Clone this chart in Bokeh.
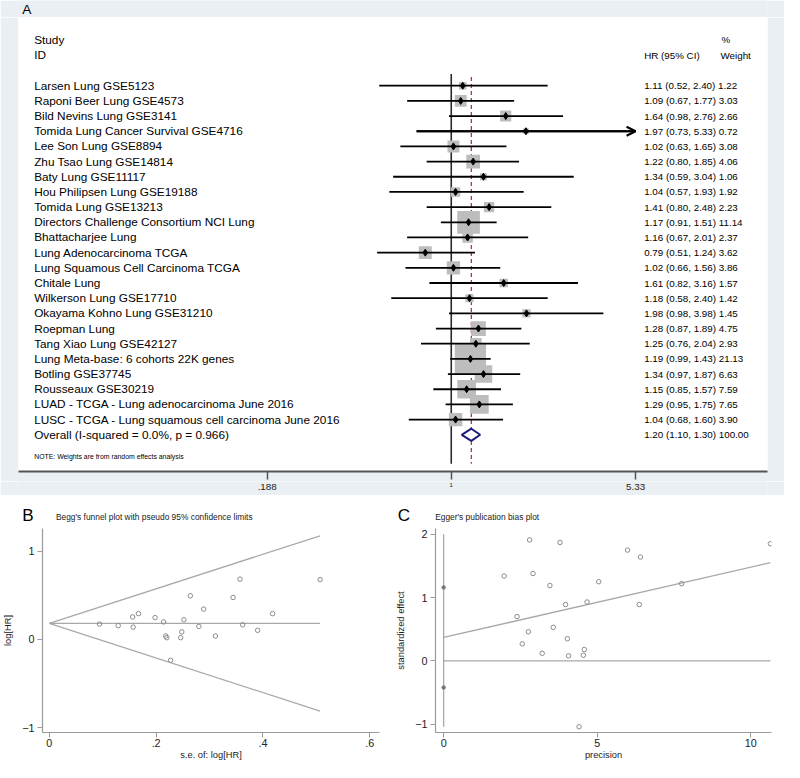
import numpy as np
from bokeh.plotting import figure
from bokeh.models import (Range1d, FixedTicker, CustomJSTickFormatter, Label,
                          Arrow, OpenHead)
from bokeh.layouts import column, row
from bokeh.embed import file_html
from bokeh.resources import INLINE
from bokeh.core.properties import value

# ---------------- data ----------------
studies = [
    "Larsen Lung GSE5123",
    "Raponi Beer Lung GSE4573",
    "Bild Nevins Lung GSE3141",
    "Tomida Lung Cancer Survival GSE4716",
    "Lee Son Lung GSE8894",
    "Zhu Tsao Lung GSE14814",
    "Baty Lung GSE11117",
    "Hou Philipsen Lung GSE19188",
    "Tomida Lung GSE13213",
    "Directors Challenge Consortium NCI Lung",
    "Bhattacharjee Lung",
    "Lung Adenocarcinoma TCGA",
    "Lung Squamous Cell Carcinoma TCGA",
    "Chitale Lung",
    "Wilkerson Lung GSE17710",
    "Okayama Kohno Lung GSE31210",
    "Roepman Lung",
    "Tang Xiao Lung GSE42127",
    "Lung Meta-base: 6 cohorts 22K genes",
    "Botling GSE37745",
    "Rousseaux GSE30219",
    "LUAD - TCGA - Lung adenocarcinoma June 2016",
    "LUSC - TCGA - Lung squamous cell carcinoma June 2016",
]
hr = [1.11, 1.09, 1.64, 1.97, 1.02, 1.22, 1.34, 1.04, 1.41, 1.17, 1.16, 0.79,
      1.02, 1.61, 1.18, 1.98, 1.28, 1.25, 1.19, 1.34, 1.15, 1.29, 1.04]
ci_low = [0.52, 0.67, 0.98, 0.73, 0.63, 0.80, 0.59, 0.57, 0.80, 0.91, 0.67, 0.51,
          0.66, 0.82, 0.58, 0.98, 0.87, 0.76, 0.99, 0.97, 0.85, 0.95, 0.68]
ci_high = [2.40, 1.77, 2.76, 5.33, 1.65, 1.85, 3.04, 1.93, 2.48, 1.51, 2.01, 1.24,
           1.56, 3.16, 2.40, 3.98, 1.89, 2.04, 1.43, 1.87, 1.57, 1.75, 1.60]
weight = [1.22, 3.03, 2.66, 0.72, 3.08, 4.06, 1.06, 1.92, 2.23, 11.14, 2.37, 3.62,
          3.86, 1.57, 1.42, 1.45, 4.75, 2.93, 21.13, 6.63, 7.59, 7.65, 3.90]
overall_label = "Overall  (I-squared = 0.0%, p = 0.966)"
overall_hr, overall_low, overall_high, overall_weight = 1.20, 1.10, 1.30, 100.00
note_text = "NOTE: Weights are from random effects analysis"
a_ticks = [0.188, 1, 5.33]
a_tick_labels = [".188", "1", "5.33"]
a_tick_label_sizes = [10, 6, 10]

# Begg's funnel plot
begg_se = [0.390, 0.248, 0.264, 0.507, 0.246, 0.214, 0.418, 0.311, 0.289, 0.129,
           0.280, 0.227, 0.220, 0.344, 0.362, 0.357, 0.198, 0.252, 0.094, 0.167,
           0.157, 0.156, 0.218]
begg_loghr = [0.104, 0.086, 0.495, 0.678, 0.020, 0.199, 0.293, 0.039, 0.344, 0.157,
              0.148, -0.236, 0.020, 0.476, 0.166, 0.683, 0.247, 0.223, 0.174, 0.293,
              0.140, 0.255, 0.039]
funnel_se = [0.0, 0.507]
funnel_mid = [0.182, 0.182]
funnel_up = [0.182, 1.175]
funnel_lo = [0.182, -0.812]
b_xticks = [0, 0.2, 0.4, 0.6]
b_xlabels = ["0", ".2", ".4", ".6"]
b_yticks = [-1, 0, 1]

# Egger's plot
egger_prec = [2.56, 4.03, 3.79, 1.97, 4.07, 4.67, 2.39, 3.21, 3.46, 7.75, 3.57, 4.41,
              4.55, 2.91, 2.76, 2.80, 5.05, 3.97, 10.64, 5.99, 6.37, 6.41, 4.58]
egger_z = [0.27, 0.35, 1.87, 1.34, 0.08, 0.93, 0.70, 0.12, 1.19, 1.22, 0.53, -1.04,
           0.09, 1.38, 0.46, 1.91, 1.25, 0.89, 1.85, 1.75, 0.89, 1.64, 0.18]
egger_fit_x = [0.0, 10.64]
egger_fit_y = [0.37, 1.55]
egger_zero_x = [0.0, 10.64]
egger_zero_y = [0.0, 0.0]
egger_vline_y = [-1.04, 2.0]
egger_ci = [-0.42, 1.16]
c_xticks = [0, 5, 10]
c_yticks = [-1, 0, 1, 2]

panel_letters = ["A", "B", "C"]
panel_titles = ["Begg's funnel plot with pseudo 95% confidence limits",
                "Egger's publication bias plot"]

# ---------------- style ----------------
FONT = "Liberation Sans"
BG = "#e9eff2"
S = 0.98          # reference pixel -> page pixel
W = 784


def fs(v):
    return f"{v * S:.1f}px"


def strip(height, x_range, y_range, bg, left=0, right=0):
    p = figure(width=W, height=height,
               x_range=x_range, y_range=y_range,
               output_backend="svg", toolbar_location=None,
               x_axis_location=None, y_axis_location=None,
               min_border_left=left, min_border_right=right,
               min_border_top=0, min_border_bottom=0,
               background_fill_color=bg, border_fill_color=bg,
               outline_line_color=None)
    p.grid.visible = False
    return p


# ---------------- panel A: forest plot ----------------
def ax_hr(x_ref):
    return float(np.exp((x_ref - 460.0) / 112.5))


def ay(y_ref):
    return (y_ref - 87.0) / 15.5


# strip with the panel letter A (ref px coordinates)
stripA = strip(17, Range1d(0, W / S), Range1d(17 / S, 0), BG)
stripA.text(x=[4], y=[8.9], text=[panel_letters[0]], text_font=value(FONT),
            text_font_size=fs(14), text_baseline="middle", text_align="left",
            text_color="black")

xr_A = Range1d(ax_hr(18), ax_hr(783))
pA = figure(width=W, height=464, x_axis_type="log",
            x_range=xr_A, y_range=Range1d(ay(481), ay(17.35)),
            output_backend="svg", toolbar_location=None,
            min_border_left=18, min_border_right=17, min_border_top=0,
            min_border_bottom=10, y_axis_location=None,
            background_fill_color="white", border_fill_color=BG,
            outline_line_color=None)
pA.grid.visible = False

xa = pA.xaxis[0]
xa.ticker = FixedTicker(ticks=a_ticks, minor_ticks=[])
xa.formatter = CustomJSTickFormatter(code="return '';")
xa.axis_line_color = "#555555"
xa.axis_line_width = 2
xa.major_tick_line_color = "#555555"
xa.major_tick_line_width = 1.5
xa.major_tick_out = 8
xa.major_tick_in = 0
xa.minor_tick_out = 0
xa.minor_tick_in = 0
xa.major_label_text_font_size = "1px"
xa.major_label_standoff = 0

rows = list(range(len(studies)))
ov_row = len(studies)

# reference lines
pA.segment(x0=1, y0=ay(75), x1=1, y1=ay(473), line_color="#2b2b2b", line_width=1.6)
pA.segment(x0=overall_hr, y0=ay(78), x1=overall_hr, y1=ay(473),
           line_color="#b23a3a", line_width=1.3, line_dash="4 3")

# weight boxes
box_size = [6.8 * np.sqrt(w) for w in weight]
pA.scatter(hr, rows, marker="square", size=box_size, fill_color="#bdbdbd",
           line_color=None)

# CI lines
xmax_tick = a_ticks[-1]
hi_clip = [min(h, xmax_tick) for h in ci_high]
pA.segment(x0=ci_low, y0=rows, x1=hi_clip, y1=rows, line_color="black",
           line_width=1.8)
for lo, h, r in zip(ci_low, ci_high, rows):
    if h >= xmax_tick:
        pA.add_layout(Arrow(end=OpenHead(size=9, line_width=2, line_color="black"),
                            x_start=lo, y_start=r, x_end=xmax_tick, y_end=r,
                            line_color="black", line_width=1.8))

# point estimates
pA.scatter(hr, rows, marker="diamond", size=7, fill_color="black",
           line_color="black")

# overall diamond
pA.patch([overall_low, overall_hr, overall_high, overall_hr],
         [ov_row, ov_row - 0.4, ov_row, ov_row + 0.4],
         fill_color="white", line_color="#1c1c7c", line_width=2)

# text columns
ci_text = [f"{h:.2f} ({lo:.2f}, {hi:.2f}) {w:.2f}"
           for h, lo, hi, w in zip(hr, ci_low, ci_high, weight)]
ci_text.append(f"{overall_hr:.2f} ({overall_low:.2f}, {overall_high:.2f}) {overall_weight:.2f}")
pA.text(x=ax_hr(34), y=rows + [ov_row], text=studies + [overall_label],
        text_font=value(FONT), text_font_size=fs(12), text_baseline="middle",
        text_align="left", text_color="black")
pA.text(x=ax_hr(657), y=rows + [ov_row], text=ci_text,
        text_font=value(FONT), text_font_size=fs(10), text_baseline="middle",
        text_align="left", text_color="black")

# headers
for txt, xr, yr, size in [("Study", 34, 40, 12), ("ID", 34, 56, 12),
                          ("HR (95% CI)", 657, 56, 10), ("%", 736, 40, 10),
                          ("Weight", 735, 56, 10)]:
    pA.add_layout(Label(x=ax_hr(xr), y=ay(yr), text=txt, text_font=FONT,
                        text_font_size=fs(size), text_baseline="middle",
                        text_align="left", text_color="black"))
pA.add_layout(Label(x=ax_hr(34), y=ay(466), text=note_text, text_font=FONT,
                    text_font_size=fs(7), text_baseline="middle",
                    text_align="left", text_color="black"))

# strip under the forest axis holding its tick labels (same x scale)
stripAx = strip(14, xr_A, Range1d(495 / S, 481 / S), BG, left=18, right=17)
stripAx.x_scale = pA.x_scale.__class__()
for v, lab, sz in zip(a_ticks, a_tick_labels, a_tick_label_sizes):
    stripAx.text(x=[v], y=[496 if sz > 7 else 494], text=[lab],
                 text_font=value(FONT), text_font_size=fs(sz),
                 text_baseline="middle", text_align="center",
                 text_color="#222222")

# strip with panel letters/titles for B and C (ref px coordinates)
stripBC = strip(31, Range1d(0, W / S), Range1d(526 / S, 495 / S), "white")
stripBC.text(x=[4, 405], y=[526, 526], text=panel_letters[1:],
             text_font=value(FONT), text_font_size=fs(17.5),
             text_baseline="middle", text_align="left", text_color="black")
stripBC.text(x=[40, 445], y=[527, 527], text=panel_titles,
             text_font=value(FONT), text_font_size=fs(8.6),
             text_baseline="middle", text_align="left", text_color="#222222")


def style_axes(p, yticks, xticks, xlabels=None):
    for ax in (p.xaxis[0], p.yaxis[0]):
        ax.axis_line_color = "#9a9a9a"
        ax.axis_line_width = 1.2
        ax.major_tick_line_color = "#9a9a9a"
        ax.major_tick_out = 5
        ax.major_tick_in = 0
        ax.minor_tick_out = 0
        ax.minor_tick_in = 0
        ax.major_label_text_font = FONT
        ax.major_label_text_font_size = fs(11)
        ax.major_label_text_color = "#222222"
        ax.axis_label_text_font = FONT
        ax.axis_label_text_font_size = fs(9.5)
        ax.axis_label_text_font_style = "normal"
        ax.axis_label_text_color = "#222222"
    p.xaxis[0].ticker = FixedTicker(ticks=xticks, minor_ticks=[])
    p.yaxis[0].ticker = FixedTicker(ticks=yticks, minor_ticks=[])
    p.xaxis[0].major_label_standoff = 1
    p.xaxis[0].axis_label_standoff = 0
    p.yaxis[0].major_label_standoff = 3
    p.yaxis[0].axis_label_standoff = 6
    if xlabels is not None:
        p.xaxis[0].formatter = CustomJSTickFormatter(
            args=dict(vals=xticks, labs=xlabels),
            code="for (let i = 0; i < vals.length; i++) { if (Math.abs(vals[i] - tick) < 1e-9) return labs[i]; } return '';")
    p.grid.visible = False


# ---------------- panel B: Begg's funnel ----------------
def bx(x_ref):
    return (x_ref - 47.0) / 550.0


def by(y_ref):
    return (652.3 - y_ref) / 91.7


pB = figure(width=392, height=236, x_range=Range1d(bx(40), bx(387)),
            y_range=Range1d(by(749), by(537)),
            output_backend="svg", toolbar_location=None,
            min_border_left=39, min_border_right=13, min_border_top=0,
            min_border_bottom=28, outline_line_color=None,
            background_fill_color="white", border_fill_color="white",
            x_axis_label="s.e. of: log[HR]", y_axis_label="log[HR]")
style_axes(pB, b_yticks, b_xticks, b_xlabels)
LC = "#a8a8a8"
pB.line(funnel_se, funnel_up, line_color=LC, line_width=1.3)
pB.line(funnel_se, funnel_lo, line_color=LC, line_width=1.3)
pB.line(funnel_se, funnel_mid, line_color=LC, line_width=1.3)
pB.scatter(begg_se, begg_loghr, marker="circle", size=4.5, fill_color=None,
           line_color="#8c8c8c", line_width=1)


# ---------------- panel C: Egger's plot ----------------
def cx(x_ref):
    return (x_ref - 452.3) / 31.35


def cy(y_ref):
    return (675.3 - y_ref) / 65.2


pC = figure(width=392, height=236, x_range=Range1d(cx(444), cx(787)),
            y_range=Range1d(cy(749), cy(539)),
            output_backend="svg", toolbar_location=None,
            min_border_left=43, min_border_right=13, min_border_top=2,
            min_border_bottom=28, outline_line_color=None,
            background_fill_color="white", border_fill_color="white",
            x_axis_label="precision", y_axis_label="standardized effect")
style_axes(pC, c_yticks, c_xticks)
pC.line([0, 0], egger_vline_y, line_color=LC, line_width=1.3)
pC.line(egger_zero_x, egger_zero_y, line_color=LC, line_width=1.3)
pC.line(egger_fit_x, egger_fit_y, line_color=LC, line_width=1.3)
pC.scatter([0, 0], egger_ci, marker="circle", size=3.5, fill_color="#777777",
           line_color="#777777")
pC.scatter(egger_prec, egger_z, marker="circle", size=4.5, fill_color=None,
           line_color="#8c8c8c", line_width=1)

layout = column(stripA, pA, stripAx, stripBC, row(pB, pC))
open("out.html", "w").write(file_html(layout, INLINE))
